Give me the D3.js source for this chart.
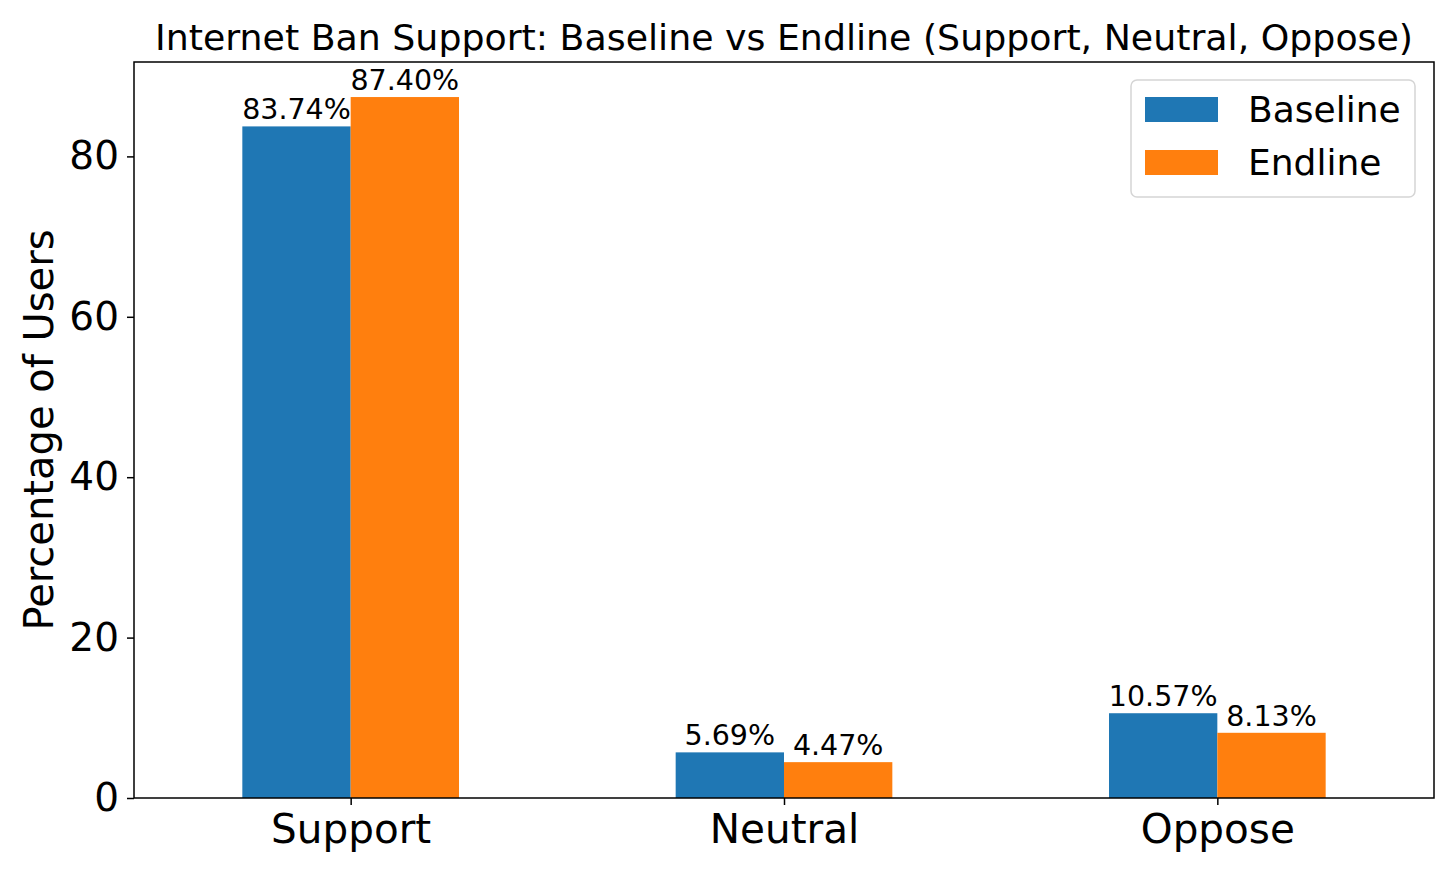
<!DOCTYPE html>
<html>
<head>
<meta charset="utf-8">
<script src="https://cdn.jsdelivr.net/npm/d3@7"></script>
<style>
  body { margin: 0; background: #fff; }
  svg { font-family: "DejaVu Sans", sans-serif; }
</style>
</head>
<body>
<svg id="chart" width="1456" height="874"></svg>
<script>
// chart data
const categories = ['Support', 'Neutral', 'Oppose'];
const seriesNames = ['Baseline', 'Endline'];
const baseline = [83.74, 5.69, 10.57];
const endline = [87.40, 4.47, 8.13];
const yTicks = [0, 20, 40, 60, 80];
const colors = ['#1f77b4', '#ff7f0e'];

const svg = d3.select('#chart');
const margin = { left: 134, right: 22, top: 62, bottom: 76 };
const W = 1456, H = 874;
const plotW = W - margin.left - margin.right;
const plotH = H - margin.top - margin.bottom;

const g = svg.append('g').attr('transform', `translate(${margin.left},${margin.top})`);

// x: categories at 0,1,2 with xlim -0.5..2.5 (like pandas bar plot)
const x = d3.scaleLinear().domain([-0.5, categories.length - 0.5]).range([0, plotW]);
const ymax = d3.max([...baseline, ...endline]) * 1.05;
const y = d3.scaleLinear().domain([0, ymax]).range([plotH, 0]);

const barW = 0.25;
const series = [baseline, endline];

series.forEach((vals, s) => {
  const offset = s === 0 ? -barW : 0;
  g.selectAll('.bar' + s)
    .data(vals)
    .enter()
    .append('rect')
    .attr('x', (d, i) => x(i + offset))
    .attr('y', d => y(d))
    .attr('width', x(barW) - x(0))
    .attr('height', d => plotH - y(d))
    .attr('fill', colors[s]);

  g.selectAll('.lab' + s)
    .data(vals)
    .enter()
    .append('text')
    .attr('x', (d, i) => x(i + offset + barW / 2))
    .attr('y', d => y(d) - 7)
    .attr('text-anchor', 'middle')
    .attr('font-size', 28.5)
    .text(d => d.toFixed(2) + '%');
});

// axes
const yAxis = d3.axisLeft(y).tickValues(yTicks).tickSize(7).tickPadding(8);
const yg = g.append('g').call(yAxis);
yg.selectAll('text').attr('font-size', 39).attr('font-family', '"DejaVu Sans"').attr('fill', '#000');
yg.select('.domain').remove();
yg.selectAll('line').attr('stroke', '#000').attr('stroke-width', 1.5);

const xAxis = d3.axisBottom(x).tickValues(d3.range(categories.length))
  .tickFormat(i => categories[i]).tickSize(7).tickPadding(9);
const xg = g.append('g').attr('transform', `translate(0,${plotH})`).call(xAxis);
xg.selectAll('text').attr('font-size', 40.5).attr('font-family', '"DejaVu Sans"').attr('fill', '#000');
xg.select('.domain').remove();
xg.selectAll('line').attr('stroke', '#000').attr('stroke-width', 1.5);

// frame
g.append('rect')
  .attr('width', plotW).attr('height', plotH)
  .attr('fill', 'none').attr('stroke', '#000').attr('stroke-width', 1.5);

// title
svg.append('text')
  .attr('x', margin.left + plotW / 2 + 0)
  .attr('y', 50)
  .attr('text-anchor', 'middle')
  .attr('font-size', 36.3)
  .text('Internet Ban Support: Baseline vs Endline (Support, Neutral, Oppose)');

// y label
svg.append('text')
  .attr('transform', `translate(53,${margin.top + plotH / 2}) rotate(-90)`)
  .attr('text-anchor', 'middle')
  .attr('font-size', 40)
  .text('Percentage of Users');

// legend
const leg = svg.append('g').attr('transform', 'translate(1131,80)');
leg.append('rect')
  .attr('width', 284).attr('height', 117)
  .attr('rx', 6)
  .attr('fill', '#fff').attr('stroke', '#d5d5d5').attr('stroke-width', 1.5);
seriesNames.forEach((name, i) => {
  leg.append('rect')
    .attr('x', 14).attr('y', 17 + i * 53)
    .attr('width', 73).attr('height', 25)
    .attr('fill', colors[i]);
  leg.append('text')
    .attr('x', 117).attr('y', 42 + i * 53)
    .attr('font-size', 36)
    .text(name);
});
</script>
</body>
</html>
